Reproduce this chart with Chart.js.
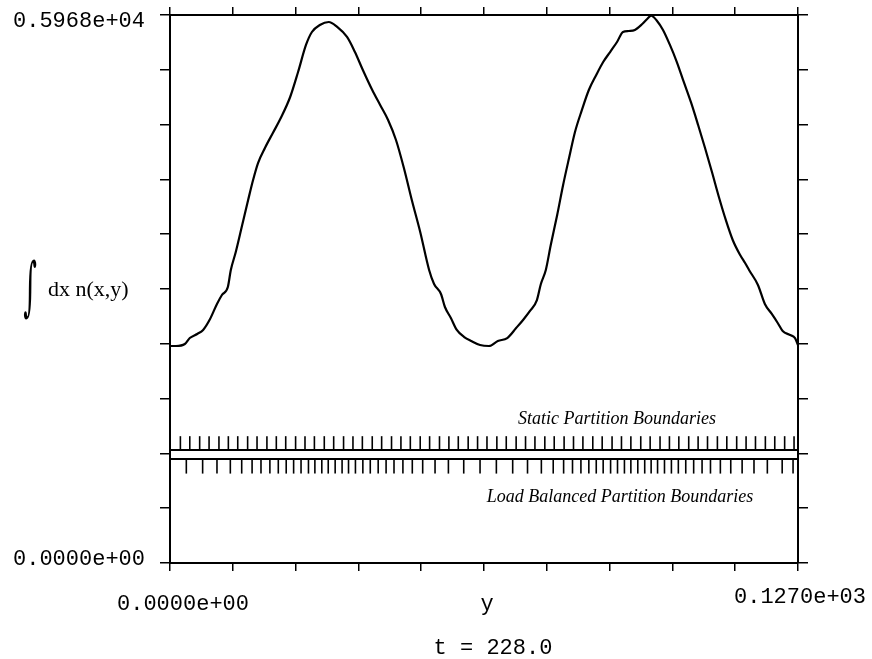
<!DOCTYPE html>
<html>
<head>
<meta charset="utf-8">
<script src="https://cdn.jsdelivr.net/npm/chart.js@4.4.0/dist/chart.umd.min.js"></script>
<style>
  html, body { margin: 0; padding: 0; background: #fff; }
  #wrap { width: 872px; height: 659px; }
</style>
</head>
<body>
<div id="wrap"><canvas id="myChart" width="872" height="659"></canvas></div>
<script>
// integrated density along y
var curveX = [
  0, 1.2, 3.0, 4.0, 5.5, 6.7, 8.1, 9.5, 10.5, 11.7,
  12.3, 13.3, 14.6, 15.8, 16.8, 17.8, 19.2, 20.8, 22.4, 24.3,
  25.9, 27.5, 28.7, 30.3, 32.1, 33.8, 35.8, 37.4, 39.0, 40.9,
  42.5, 44.1, 45.7, 47.3, 48.9, 50.6, 52.4, 53.4, 54.8, 55.6,
  56.8, 58.0, 59.5, 60.9, 62.7, 64.5, 66.3, 68.2, 70.0, 71.4,
  72.8, 74.2, 75.0, 76.0, 77.0, 78.3, 79.5, 80.7, 81.9, 83.3,
  84.7, 86.2, 87.6, 89.0, 90.4, 91.6, 92.8, 94.0, 95.5, 96.5,
  97.3, 98.5, 99.7, 101.1, 102.5, 103.9, 105.4, 106.8, 108.2, 109.6,
  111.0, 112.4, 113.8, 115.3, 116.3, 117.1, 118.9, 120.3, 121.7, 122.9,
  123.9, 125.4, 126.4, 127.0
];
var curveY = [
  2363, 2363, 2385, 2450, 2494, 2538, 2657, 2821, 2919, 3006,
  3191, 3387, 3681, 3953, 4171, 4356, 4520, 4683, 4846, 5075,
  5347, 5642, 5783, 5859, 5892, 5838, 5729, 5565, 5369, 5151,
  4988, 4825, 4607, 4302, 3953, 3605, 3191, 3039, 2930, 2788,
  2668, 2538, 2461, 2418, 2374, 2363, 2418, 2450, 2559, 2647,
  2745, 2864, 3039, 3191, 3463, 3790, 4117, 4411, 4694, 4934,
  5151, 5315, 5456, 5565, 5674, 5783, 5794, 5805, 5870, 5925,
  5960, 5903, 5805, 5642, 5456, 5239, 5010, 4770, 4520, 4258,
  3986, 3736, 3518, 3354, 3267, 3191, 3028, 2821, 2712, 2614,
  2527, 2483, 2450, 2374
];

// partition boundaries (y positions)
var staticBounds = [
  2.1, 4.0, 6.0, 7.9, 9.9, 11.8, 13.7, 15.7, 17.6, 19.6,
  21.5, 23.4, 25.4, 27.3, 29.2, 31.2, 33.1, 35.1, 37.0, 38.9,
  40.9, 42.8, 44.8, 46.7, 48.6, 50.6, 52.5, 54.5, 56.4, 58.3,
  60.3, 62.2, 64.1, 66.1, 68.0, 70.0, 71.9, 73.8, 75.8, 77.7,
  79.7, 81.6, 83.5, 85.5, 87.4, 89.4, 91.3, 93.2, 95.2, 97.1,
  99.1, 101.0, 102.9, 104.9, 106.8, 108.7, 110.7, 112.6, 114.6, 116.5,
  118.4, 120.4, 122.3, 124.3, 126.2
];
var balancedBounds = [
  0, 3.3, 6.6, 9.5, 12.2, 14.5, 16.6, 18.4, 20.2, 21.9,
  23.5, 25.0, 26.5, 28.0, 29.3, 30.7, 32.0, 33.4, 34.8, 36.1,
  37.5, 39.0, 40.5, 42.1, 43.7, 45.3, 47.1, 49.0, 51.1, 53.6,
  56.3, 59.4, 62.7, 66.0, 69.3, 72.3, 75.1, 77.5, 79.6, 81.4,
  83.1, 84.7, 86.2, 87.6, 89.1, 90.5, 91.9, 93.2, 94.6, 96.0,
  97.3, 98.6, 100.0, 101.4, 102.8, 104.3, 105.9, 107.6, 109.3, 111.3,
  113.4, 115.7, 118.1, 120.8, 123.8, 126.0
];

var yTickValues = [0, 5968];
var yTickLabels = ['0.0000e+00', '0.5968e+04'];
var xTickValues = [0, 127];
var xTickLabels = ['0.0000e+00', '0.1270e+03'];
var xTitle = 'y';
var yTitle = 'dx n(x,y)';
var caption = 't = 228.0';
var staticText = 'Static Partition Boundaries';
var balancedText = 'Load Balanced Partition Boundaries';

// where the partition strip sits on the value axis
var bandTop = 1231, bandBottom = 1133;
var staticLevel = 1305, balancedLevel = 1050;

var ctx = document.getElementById('myChart');

function pts(xs, ys) {
  return xs.map(function(x, i) { return {x: x, y: ys[i]}; });
}
function level(xs, v) {
  return xs.map(function(x) { return {x: x, y: v}; });
}

var labelPlugin = {
  id: 'labels',
  afterDraw: function(chart) {
    var c = chart.ctx, a = chart.chartArea;
    var xs = chart.scales.x, ys = chart.scales.y;
    c.save();
    c.fillStyle = '#000';
    c.textBaseline = 'middle';

    c.font = '22px "Liberation Mono"';
    c.textAlign = 'right';
    c.fillText(yTickLabels[1], a.left - 25, ys.getPixelForValue(yTickValues[1]) + 6);
    c.fillText(yTickLabels[0], a.left - 25, ys.getPixelForValue(yTickValues[0]) - 4);

    c.textAlign = 'center';
    c.fillText(xTickLabels[0], xs.getPixelForValue(xTickValues[0]) + 13, a.bottom + 41);
    c.fillText(xTitle, (a.left + a.right) / 2 + 3, a.bottom + 41);
    c.fillText(caption, (a.left + a.right) / 2 + 9, a.bottom + 85);
    c.textAlign = 'right';
    c.fillText(xTickLabels[1], xs.getPixelForValue(xTickValues[1]) + 68, a.bottom + 34);

    c.font = 'italic 18px "Liberation Serif"';
    c.textAlign = 'center';
    c.fillText(staticText, 617, ys.getPixelForValue(bandTop) - 31);
    c.fillText(balancedText, 620, ys.getPixelForValue(bandBottom) + 38);

    c.font = '22px "Liberation Serif"';
    c.textAlign = 'left';
    c.fillText(yTitle, 48, 290);
    c.save();
    c.translate(30, 291);
    c.scale(0.65, 1.6);
    c.font = '40px "DejaVu Serif"';
    c.textAlign = 'center';
    c.fillText('\u222B', 0, 0);
    c.restore();
    c.restore();
  }
};

function axisOpts(pos, isX, tickLen) {
  return {
    type: 'linear',
    position: pos,
    min: 0,
    max: isX ? 127 : 5968,
    ticks: { count: 11, display: false, autoSkip: false },
    grid: { drawOnChartArea: false, drawTicks: true, tickLength: tickLen, color: '#000', lineWidth: 1.5 },
    border: { display: true, color: '#000', width: 2 }
  };
}

var myChart = new Chart(ctx, {
  type: 'scatter',
  data: {
    datasets: [
      {
        label: 'n',
        data: pts(curveX, curveY),
        showLine: true,
        borderColor: '#000',
        borderWidth: 2.2,
        pointRadius: 0,
        cubicInterpolationMode: 'monotone'
      },
      {
        label: 'strip top',
        data: level([0, 127], bandTop),
        showLine: true, borderColor: '#000', borderWidth: 2, pointRadius: 0
      },
      {
        label: 'strip bottom',
        data: level([0, 127], bandBottom),
        showLine: true, borderColor: '#000', borderWidth: 2, pointRadius: 0
      },
      {
        label: 'static',
        data: level(staticBounds, staticLevel),
        showLine: false,
        pointStyle: 'line', pointRotation: 90, pointRadius: 7,
        pointBorderColor: '#000', pointBorderWidth: 1.6
      },
      {
        label: 'balanced',
        data: level(balancedBounds, balancedLevel),
        showLine: false,
        pointStyle: 'line', pointRotation: 90, pointRadius: 7,
        pointBorderColor: '#000', pointBorderWidth: 1.6
      }
    ]
  },
  options: {
    responsive: false,
    animation: false,
    devicePixelRatio: 1,
    layout: { padding: { left: 160, right: 64, top: 7, bottom: 88 } },
    plugins: { legend: { display: false }, tooltip: { enabled: false } },
    scales: {
      x: axisOpts('bottom', true, 8),
      x2: axisOpts('top', true, 8),
      y: axisOpts('left', false, 10),
      y2: axisOpts('right', false, 10)
    }
  },
  plugins: [labelPlugin]
});
</script>
</body>
</html>
